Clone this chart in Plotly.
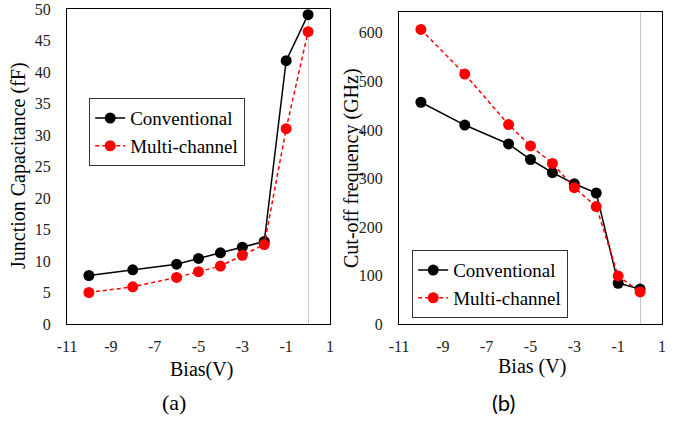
import plotly.graph_objects as go

bias = [-10, -8, -6, -5, -4, -3, -2, -1, 0]
cap_conv = [7.7, 8.6, 9.5, 10.4, 11.3, 12.2, 13.1, 41.8, 49.1]
cap_multi = [5.0, 5.9, 7.4, 8.3, 9.2, 10.9, 12.6, 31.0, 46.4]
fc_conv = [457, 410, 371, 339, 312, 289, 270, 84, 72]
fc_multi = [607, 515, 411, 367, 331, 281, 242, 99, 66]
x_ticks = [-11, -9, -7, -5, -3, -1, 1]
x_tick_labels = ["-11", "-9", "-7", "-5", "-3", "-1", "1"]
cap_ticks = [0, 5, 10, 15, 20, 25, 30, 35, 40, 45, 50]
fc_ticks = [0, 100, 200, 300, 400, 500, 600]

W, H = 681, 422
SERIF = '"Liberation Serif", "Times New Roman", serif'

fig = go.Figure()

def add_pair(xa, ya, yc, ym, leg):
    fig.add_trace(go.Scatter(x=bias, y=yc, xaxis=xa, yaxis=ya, name="Conventional",
                             mode="lines+markers", line=dict(color="black", width=1.5),
                             marker=dict(color="black", size=11), legend=leg))
    fig.add_trace(go.Scatter(x=bias, y=ym, xaxis=xa, yaxis=ya, name="Multi-channel",
                             mode="lines+markers", line=dict(color="#ff0000", width=1.5, dash="4px,3px"),
                             marker=dict(color="#ff0000", size=11), legend=leg))

add_pair("x", "y", cap_conv, cap_multi, "legend")
add_pair("x2", "y2", fc_conv, fc_multi, "legend2")

def px(v):
    return v / W

def py(v):
    return 1 - v / H

axis_common = dict(showgrid=False, showline=True, linecolor="black", linewidth=1.2,
                   mirror=True, ticks="", automargin=False,
                   tickfont=dict(family=SERIF, size=16, color="#222"))

xcommon = dict(axis_common, range=[-11, 1], tickvals=x_ticks, ticktext=x_tick_labels,
               ticklabelstandoff=8,
               zeroline=True, zerolinecolor="#c8c8c8", zerolinewidth=1.2)

fig.update_layout(
    template="none",
    font=dict(family=SERIF, color="black"),
    width=W, height=H, margin=dict(l=0, r=0, t=0, b=0, autoexpand=False),
    paper_bgcolor="white", plot_bgcolor="white", showlegend=True,
    xaxis=dict(xcommon, domain=[px(67), px(330)], anchor="y"),
    yaxis=dict(axis_common, domain=[py(324), py(9)], range=[0, 50], tickvals=cap_ticks,
               anchor="x", zeroline=False, ticklabelstandoff=12),
    xaxis2=dict(xcommon, domain=[px(399), px(662)], anchor="y2"),
    yaxis2=dict(axis_common, domain=[py(324), py(12)], range=[0, 643], tickvals=fc_ticks,
                anchor="x2", zeroline=False, ticklabelstandoff=12),
    legend=dict(x=px(89), y=py(98), xanchor="left", yanchor="top",
                bordercolor="#333", borderwidth=1.2, bgcolor="white",
                font=dict(family=SERIF, size=19, color="black"),
                tracegroupgap=0, itemwidth=30),
    legend2=dict(x=px(412), y=py(250), xanchor="left", yanchor="top",
                 bordercolor="#333", borderwidth=1.2, bgcolor="white",
                 font=dict(family=SERIF, size=19, color="black"),
                 tracegroupgap=0, itemwidth=30),
)

ann = [
    dict(text="Junction Capacitance (fF)", x=px(19), y=py(166), textangle=-90, size=20, fam=SERIF),
    dict(text="Cut-off frequency (GHz)", x=px(351), y=py(168), textangle=-90, size=20, fam=SERIF),
    dict(text="Bias(V)", x=px(201), y=py(369), textangle=0, size=20, fam=SERIF),
    dict(text="Bias (V)", x=px(532), y=py(366), textangle=0, size=20, fam=SERIF),
    dict(text="(a)", x=px(174), y=py(402), textangle=0, size=22, fam=SERIF),
    dict(text="(b)", x=px(503), y=py(402), textangle=0, size=22, fam="Lato, 'Open Sans', sans-serif"),
]
for a in ann:
    fig.add_annotation(text=a["text"], x=a["x"], y=a["y"], xref="paper", yref="paper",
                       xanchor="center", yanchor="middle", textangle=a["textangle"],
                       showarrow=False, font=dict(family=a["fam"], size=a["size"], color="black"))

fig.write_html("out.html", config={"displayModeBar": False},
               post_script="document.body.style.margin='0';document.body.style.padding='0';")
